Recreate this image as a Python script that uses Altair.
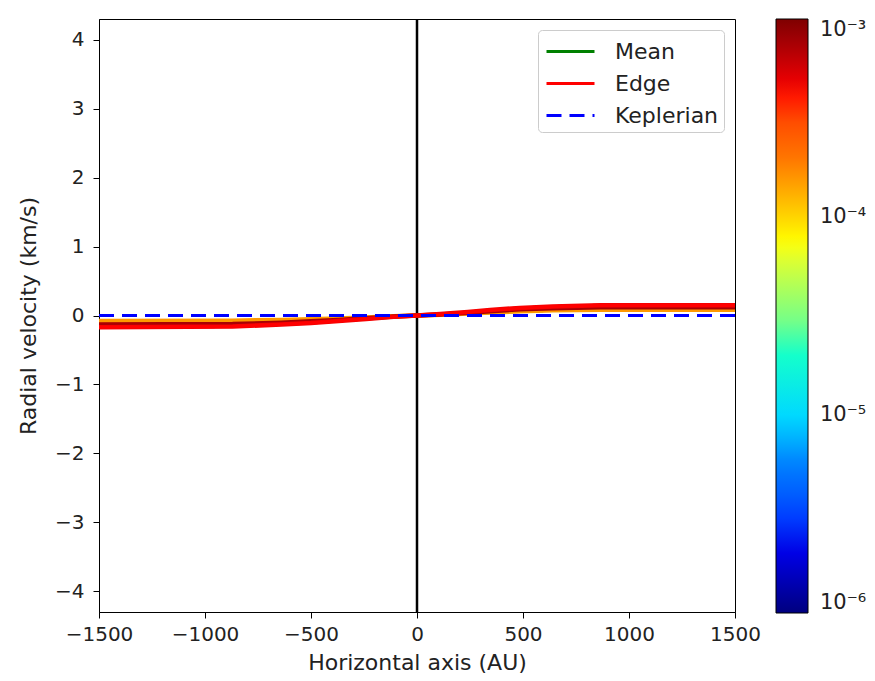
import altair as alt
import pandas as pd

# ---- data ----
x_au = [-1500, -870, -640, -500, -370, -240, -110, 0, 110, 240, 345, 485, 640, 865, 1500]
edge_v = [-0.17, -0.16, -0.13, -0.11, -0.08, -0.05, -0.02, 0, 0.02, 0.05, 0.08, 0.11, 0.13, 0.15, 0.15]
mid_v = [-0.13, -0.125, -0.105, -0.085, -0.065, -0.04, -0.016, 0, 0.016, 0.04, 0.063, 0.09, 0.105, 0.12, 0.12]
mean_v = [-0.08, -0.075, -0.065, -0.055, -0.042, -0.028, -0.011, 0, 0.011, 0.028, 0.042, 0.06, 0.075, 0.085, 0.085]
kepler_v = [0] * len(x_au)

track_names = ["inner", "mid", "outer"]
track_density = [1.5e-4, 7.5e-4, 4.5e-4]
track_values = [mean_v, mid_v, edge_v]

series_names = ["Mean", "Edge", "Keplerian"]
series_colors = ["#008000", "#ff0000", "#0000ff"]
series_dash = [[1, 0], [1, 0], [15, 8]]

jet = ["#00007f", "#0000ff", "#007fff", "#00ffff", "#7fff7f",
       "#ffff00", "#ff7f00", "#ff0000", "#7f0000"]
cb_domain = [1e-6 * (1000 ** (i / 8)) for i in range(9)]
cb_ticks = [1e-6, 1e-5, 1e-4, 1e-3]

# ---- tables ----
dens_rows = []
for name, d, vals in zip(track_names, track_density, track_values):
    for x, v in zip(x_au, vals):
        dens_rows.append({"x": x, "v": v, "track": name, "dens": d})
dens_df = pd.DataFrame(dens_rows)

ser_rows = []
for name, vals in zip(series_names, [mean_v, edge_v, kepler_v]):
    for x, v in zip(x_au, vals):
        ser_rows.append({"x": x, "v": v, "series": name})
ser_df = pd.DataFrame(ser_rows)

xscale = alt.Scale(domain=[-1500, 1500], nice=False, zero=False)
yscale = alt.Scale(domain=[-4.3, 4.3], nice=False, zero=False)

xaxis = alt.Axis(title="Horizontal axis (AU)", values=[-1500, -1000, -500, 0, 500, 1000, 1500],
                 grid=False, format="d", labelFlush=False, labelPadding=6, titlePadding=8,
                 labelExpr="replace(datum.label, '-', '\u2212')")
yaxis = alt.Axis(title="Radial velocity (km/s)", values=[-4, -3, -2, -1, 0, 1, 2, 3, 4],
                 grid=False, format="d", labelFlush=False, labelPadding=9, titlePadding=14,
                 labelExpr="replace(datum.label, '-', '\u2212')")


def series_legend():
    return alt.Legend(
        title=None, orient="top-right", offset=11,
        symbolType="M-1.6,0H1.6", symbolSize=900, symbolStrokeWidth=3,
        symbolOffset=11,
        labelFont="DejaVu Sans", labelFontSize=22, labelColor="#222222", labelOffset=28,
        rowPadding=4, padding=5, fillColor="white",
        strokeColor="#cccccc", cornerRadius=4,
    )


color_enc = alt.Color("series:N", scale=alt.Scale(domain=series_names, range=series_colors),
                      legend=series_legend())
dash_enc = alt.StrokeDash("series:N", scale=alt.Scale(domain=series_names, range=series_dash),
                          legend=series_legend())

vline = alt.Chart(pd.DataFrame({"x": [0]})).mark_rule(color="black", strokeWidth=2.5).encode(
    x=alt.X("x:Q", scale=xscale, axis=xaxis)
)

mean_layer = alt.Chart(ser_df[ser_df.series == "Mean"]).mark_line(strokeWidth=3).encode(
    x=alt.X("x:Q", scale=xscale, axis=xaxis),
    y=alt.Y("v:Q", scale=yscale, axis=yaxis),
    color=color_enc,
    strokeDash=dash_enc,
)

dens_layer = alt.Chart(dens_df).mark_line(strokeWidth=4.5).encode(
    x=alt.X("x:Q", scale=xscale, axis=xaxis),
    y=alt.Y("v:Q", scale=yscale, axis=yaxis),
    detail="track:N",
    stroke=alt.Stroke(
        "dens:Q",
        scale=alt.Scale(type="log", domain=cb_domain, range=jet),
        legend=alt.Legend(
            title=None, orient="right", type="gradient", values=cb_ticks,
            gradientLength=594, gradientThickness=32,
            gradientStrokeColor="black", gradientStrokeWidth=1,
            labelExpr="datum.value < 2e-6 ? '10\u207b\u2076' : datum.value < 2e-5 ? '10\u207b\u2075' : datum.value < 2e-4 ? '10\u207b\u2074' : '10\u207b\u00b3'",
            labelFont="DejaVu Sans", labelFontSize=21, labelColor="#222222", labelOffset=12,
            offset=32, padding=0,
        ),
    ),
)

ser_layer = alt.Chart(ser_df[ser_df.series != "Mean"]).mark_line(strokeWidth=3).encode(
    x=alt.X("x:Q", scale=xscale, axis=xaxis),
    y=alt.Y("v:Q", scale=yscale, axis=yaxis),
    color=color_enc,
    strokeDash=dash_enc,
)

chart = alt.layer(vline, mean_layer, dens_layer, ser_layer).properties(
    width=636, height=593,
    autosize=alt.AutoSizeParams(type="none"),
    padding={"left": 99, "top": 19, "right": 140, "bottom": 69},
).configure_view(
    stroke="black", strokeWidth=1
).configure_axis(
    labelFont="DejaVu Sans", titleFont="DejaVu Sans",
    labelFontSize=20, titleFontSize=22, titleFontWeight="normal",
    labelColor="#222222", titleColor="#222222",
    domainColor="black", tickColor="black", tickSize=6, domainWidth=1,
)

chart.save("out.html", embed_options={"renderer": "svg", "actions": False})
